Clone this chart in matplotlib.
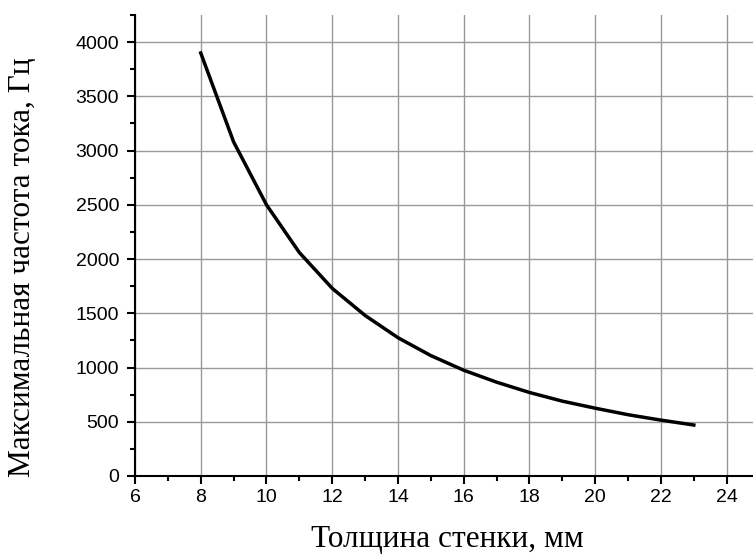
import matplotlib
matplotlib.use("Agg")
import matplotlib.pyplot as plt
from matplotlib.ticker import MultipleLocator

thickness_mm = [8, 9, 10, 11, 12, 13, 14, 15, 16, 17, 18, 19, 20, 21, 22, 23]
max_freq_hz = [3900, 3080, 2500, 2060, 1730, 1480, 1275, 1110, 975, 865, 770, 690, 625, 565, 515, 470]

x_label = "Толщина стенки, мм"
y_label = "Максимальная частота тока, Гц"

fig = plt.figure(figsize=(7.53, 5.55), dpi=100)
ax = fig.add_axes([135/753, 1-476/555, 1-135/753, (476-15)/555])

ax.plot(thickness_mm, max_freq_hz, color="black", lw=2.5, zorder=3)

ax.set_xlim(6, 24.8)
ax.set_ylim(0, 4250)
ax.xaxis.set_major_locator(MultipleLocator(2))
ax.xaxis.set_minor_locator(MultipleLocator(1))
ax.yaxis.set_major_locator(MultipleLocator(500))
ax.yaxis.set_minor_locator(MultipleLocator(250))

ax.grid(True, which="major", color="#999999", lw=1.0, zorder=0)

for s in ["top", "right"]:
    ax.spines[s].set_visible(False)
for s in ["left", "bottom"]:
    ax.spines[s].set_linewidth(1.5)
    ax.spines[s].set_color("black")

ax.tick_params(which="major", direction="out", length=6, width=1.5, labelsize=14,
               colors="black")
ax.tick_params(which="minor", direction="out", length=3.6, width=1.5)
ax.tick_params(axis="x", which="major", pad=3)
ax.tick_params(axis="y", which="major", pad=5.5)
for lbl in ax.get_xticklabels() + ax.get_yticklabels():
    lbl.set_fontfamily("Liberation Sans")

ax.set_xlabel(x_label, fontsize=22.5, family="Liberation Serif")
ax.set_ylabel(y_label, fontsize=22.5, family="Liberation Serif")
ax.xaxis.set_label_coords(0.506, -0.106)
ax.yaxis.set_label_coords(-0.1586, 0.452)

fig.savefig("out.png", dpi=100)
